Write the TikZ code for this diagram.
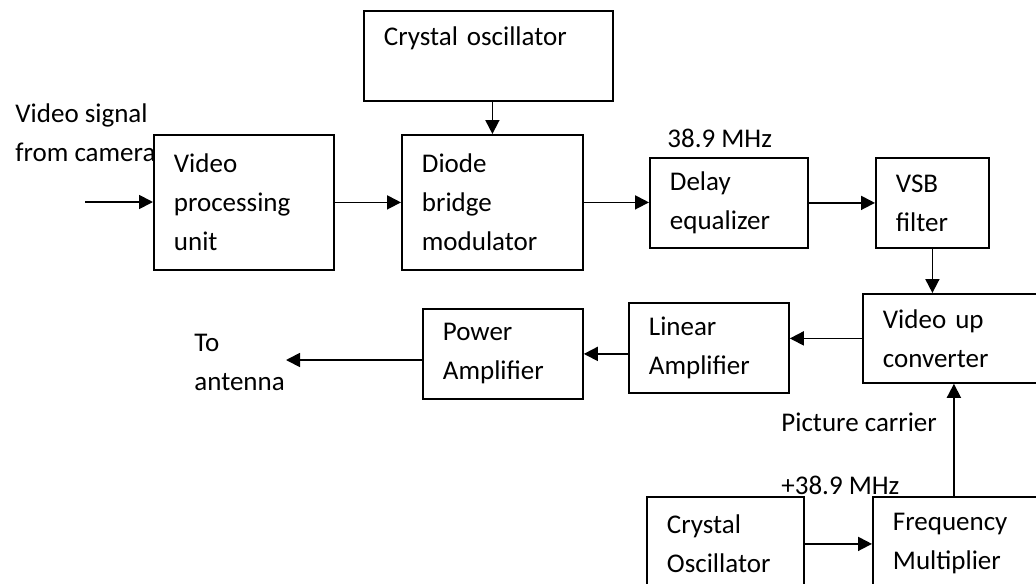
\documentclass[tikz,border=0pt]{standalone}
\usepackage{fontspec}
\setmainfont{Carlito}
\usetikzlibrary{arrows.meta,positioning}

\begin{document}
\begin{tikzpicture}[x=0.5pt,y=-0.5pt,
 font=\fontsize{13.5pt}{19.5pt}\selectfont,
 blk/.style={draw,line width=0.9pt,anchor=north west,align=left,inner xsep=10pt,inner ysep=0pt},
 lbl/.style={align=left,inner sep=0pt,anchor=west},
 ar/.style={-{Triangle[length=7pt,width=7pt]},line width=0.9pt}]
\clip (0,0) rectangle (1036,583);
% blocks
\node[blk,minimum width=124.5pt,minimum height=45pt,text width=104.5pt] (crys) at (363,10) {Crystal oscillator\\\mbox{}};
\node[blk,minimum width=90pt,minimum height=67.5pt,text width=70pt] (vpu) at (153,134) {Video\\processing\\unit};
\node[blk,minimum width=90.5pt,minimum height=67.5pt,text width=70.5pt] (dbm) at (401,134) {Diode\\bridge\\modulator};
\node[blk,minimum width=79pt,minimum height=45pt,text width=59pt] (deq) at (649,157) {Delay\\equalizer};
\node[blk,minimum width=56.5pt,minimum height=45pt,text width=36.5pt] (vsb) at (875,157) {VSB\\filter};
\node[blk,minimum width=92pt,minimum height=44.5pt,text width=72pt] (vuc) at (862,293) {Video up\\converter};
\node[blk,minimum width=80pt,minimum height=45pt,text width=60pt] (lin) at (628,302) {Linear\\Amplifier};
\node[blk,minimum width=80pt,minimum height=45pt,text width=60pt] (pwr) at (422,308) {Power\\Amplifier};
\node[blk,minimum width=78.5pt,minimum height=47pt,text width=58.5pt] (cosc) at (646,496) {Crystal\\Oscillator};
\node[blk,minimum width=87pt,minimum height=47pt,text width=67pt] (fmul) at (872,496) {Frequency\\Multiplier};
% labels
\node[lbl] (vsig) at (15,132.5) {Video signal\\from camera};
\node[lbl] (ifq) at (667,138) {38.9 MHz};
\node[lbl] (toant) at (194,362) {To\\antenna};
\node[lbl] (pcar) at (781,422) {Picture carrier};
\node[lbl] (pfq) at (781,485) {+38.9 MHz};
% ends
\coordinate (src) at (85,202);
\coordinate (ant) at (286,360);
% arrows
\draw[ar] (src) -- (src -| vpu.west);
\draw[ar] (vpu.east) -- (dbm.west);
\draw[ar] (dbm.north |- crys.south) -- (dbm.north);
\draw[ar] (dbm.east) -- (dbm.east -| deq.west);
\draw[ar] (deq.east) -- (vsb.west);
\draw[ar] (vsb.south) -- (vsb.south |- vuc.north);
\draw[ar] (vuc.west) -- (vuc.west -| lin.east);
\draw[ar] (lin.west |- pwr.east) -- (pwr.east);
\draw[ar] (pwr.west |- ant) -- (ant);
\draw[ar] (cosc.east) -- (cosc.east -| fmul.west);
\draw[ar] ([xshift=-3pt]fmul.north) -- ([xshift=-3pt]fmul.north |- vuc.south);
\end{tikzpicture}
\end{document}
